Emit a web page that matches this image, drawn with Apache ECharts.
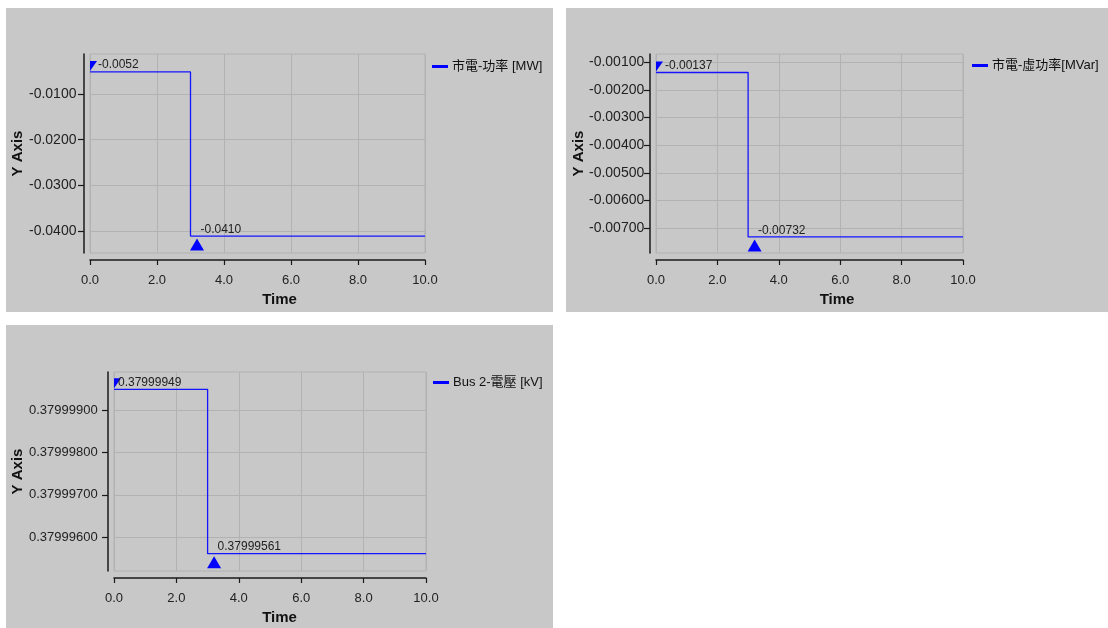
<!DOCTYPE html>
<html>
<head>
<meta charset="utf-8">
<script src="https://cdn.jsdelivr.net/npm/echarts@6/dist/echarts.min.js"></script>
<style>
  html, body { margin: 0; padding: 0; background: #ffffff; width: 1108px; height: 628px; overflow: hidden; }
  .panel { position: absolute; background: #c8c8c8; }
</style>
</head>
<body>
<div id="p1" class="panel" style="left:6px;top:8px;width:547px;height:304px;"></div>
<div id="p2" class="panel" style="left:566px;top:8px;width:542px;height:304px;"></div>
<div id="p3" class="panel" style="left:6px;top:325px;width:547px;height:303px;"></div>
<script>
// Simulation time samples (s) where the recorded quantities change
const TIME_S = [0, 3, 10];

// Recorded quantities at those samples
const GRID_POWER_MW = [-0.0052, -0.0410, -0.0410];
const GRID_REACTIVE_MVAR = [-0.00137, -0.00732, -0.00732];
const BUS2_VOLTAGE_KV = [0.37999949, 0.37999561, 0.37999561];

// Series names shown in the legends
const NAME_POWER = '市電-功率 [MW]';
const NAME_REACTIVE = '市電-虛功率[MVar]';
const NAME_VOLTAGE = 'Bus 2-電壓 [kV]';

// Axis tick values
const TIME_TICKS = [0, 2, 4, 6, 8, 10];
const POWER_TICKS = [-0.04, -0.03, -0.02, -0.01];
const REACTIVE_TICKS = [-0.007, -0.006, -0.005, -0.004, -0.003, -0.002, -0.001];
const VOLTAGE_TICKS = [0.379996, 0.379997, 0.379998, 0.379999];

const FONT = '"Liberation Sans", Arial, "Noto Sans CJK TC", sans-serif';
const LINE_BLUE = '#1414ff';
const MARK_BLUE = '#0000ff';
const GRID_GRAY = '#b2b2b2';
const AXIS_BLACK = '#1a1a1a';
const TEXT_DARK = '#222222';
const Y_LABEL_LEFT = 23;   // y tick labels are left-aligned at this x inside each panel

function buildPanel(id, cfg) {
  const chart = echarts.init(document.getElementById(id), null, { renderer: 'canvas' });
  const data = TIME_S.map((t, i) => [t, cfg.values[i]]);
  const yAxisX = cfg.grid[0] - 6;
  chart.setOption({
    animation: false,
    backgroundColor: 'transparent',
    textStyle: { fontFamily: FONT },
    title: {
      text: 'Time',
      left: 'center',
      top: cfg.timeTop,
      padding: 0,
      textStyle: { fontFamily: FONT, fontSize: 15, fontWeight: 'bold', color: '#111', lineHeight: 16 }
    },
    legend: {
      data: [cfg.name],
      left: cfg.legendLeft,
      top: cfg.legendTop,
      padding: 0,
      icon: 'rect',
      itemWidth: 16,
      itemHeight: 3,
      textStyle: { fontFamily: FONT, fontSize: 13, color: '#111', padding: [0, 0, 0, -1] }
    },
    grid: {
      left: cfg.grid[0], top: cfg.grid[1], width: cfg.grid[2], height: cfg.grid[3],
      show: true, borderColor: GRID_GRAY, borderWidth: 1, backgroundColor: 'transparent',
      containLabel: false,
      outerBoundsMode: 'none'
    },
    xAxis: {
      type: 'value',
      min: 0, max: 10, interval: 2,
      offset: 7,
      axisLine: { show: true, onZero: false, lineStyle: { color: AXIS_BLACK, width: 1.5 } },
      axisTick: { show: true, length: 5, customValues: TIME_TICKS, lineStyle: { color: AXIS_BLACK, width: 1.2 } },
      axisLabel: { margin: 14, fontFamily: FONT, fontSize: 13, color: TEXT_DARK, customValues: TIME_TICKS,
                   formatter: v => v.toFixed(1) },
      splitLine: { show: true, lineStyle: { color: GRID_GRAY, width: 1 } }
    },
    yAxis: {
      type: 'value',
      min: cfg.yMin, max: cfg.yMax,
      offset: 6,
      name: 'Y Axis',
      nameLocation: 'middle',
      nameGap: cfg.nameGap,
      nameMoveOverlap: false,
      nameTextStyle: { fontFamily: FONT, fontSize: 15, fontWeight: 'bold', color: '#111' },
      axisLine: { show: true, onZero: false, lineStyle: { color: AXIS_BLACK, width: 1.5 } },
      axisTick: { show: true, length: 6, customValues: cfg.ticks, lineStyle: { color: AXIS_BLACK, width: 1.2 } },
      axisLabel: { margin: yAxisX - Y_LABEL_LEFT, align: 'left', fontFamily: FONT, fontSize: cfg.yLabelSize,
                   color: TEXT_DARK, customValues: cfg.ticks,
                   formatter: v => v.toFixed(cfg.decimals) },
      splitLine: { show: true, lineStyle: { color: GRID_GRAY, width: 1 } }
    },
    series: [{
      name: cfg.name,
      type: 'line',
      step: 'end',
      data: data,
      showSymbol: false,
      itemStyle: { color: MARK_BLUE },
      lineStyle: { color: LINE_BLUE, width: 1.3 },
      markPoint: {
        itemStyle: { color: MARK_BLUE },
        label: {
          show: true, color: TEXT_DARK, fontFamily: FONT, fontSize: 12,
          align: 'left', verticalAlign: 'middle',
          formatter: p => Number(p.value).toFixed(cfg.decimals)
        },
        data: [
          { type: 'max', symbol: 'path://M0,0L7,0L0,10Z', symbolSize: [7, 10], symbolOffset: [3.5, -6],
            label: { position: [cfg.maxLabelDx, 4] } },
          { type: 'min', symbol: 'triangle', symbolSize: [14, 12], symbolOffset: [6.5, 8.5],
            label: { position: [10.5, -9] } }
        ]
      }
    }]
  });
}

buildPanel('p1', {
  name: NAME_POWER, values: GRID_POWER_MW, ticks: POWER_TICKS, decimals: 4,
  yMin: -0.0447, yMax: -0.0013, yLabelSize: 14,
  grid: [84, 46, 335, 199], nameGap: 59, maxLabelDx: 8,
  legendLeft: 426, legendTop: 52, timeTop: 284
});

buildPanel('p2', {
  name: NAME_REACTIVE, values: GRID_REACTIVE_MVAR, ticks: REACTIVE_TICKS, decimals: 5,
  yMin: -0.0079, yMax: -0.0007, yLabelSize: 14,
  grid: [90, 46, 307, 199], nameGap: 64, maxLabelDx: 9,
  legendLeft: 406, legendTop: 51, timeTop: 284
});

buildPanel('p3', {
  name: NAME_VOLTAGE, values: BUS2_VOLTAGE_KV, ticks: VOLTAGE_TICKS, decimals: 8,
  yMin: 0.3799952, yMax: 0.3799999, yLabelSize: 13,
  grid: [108, 47, 312, 199], nameGap: 83, maxLabelDx: 4,
  legendLeft: 427, legendTop: 51, timeTop: 285
});
</script>
</body>
</html>
